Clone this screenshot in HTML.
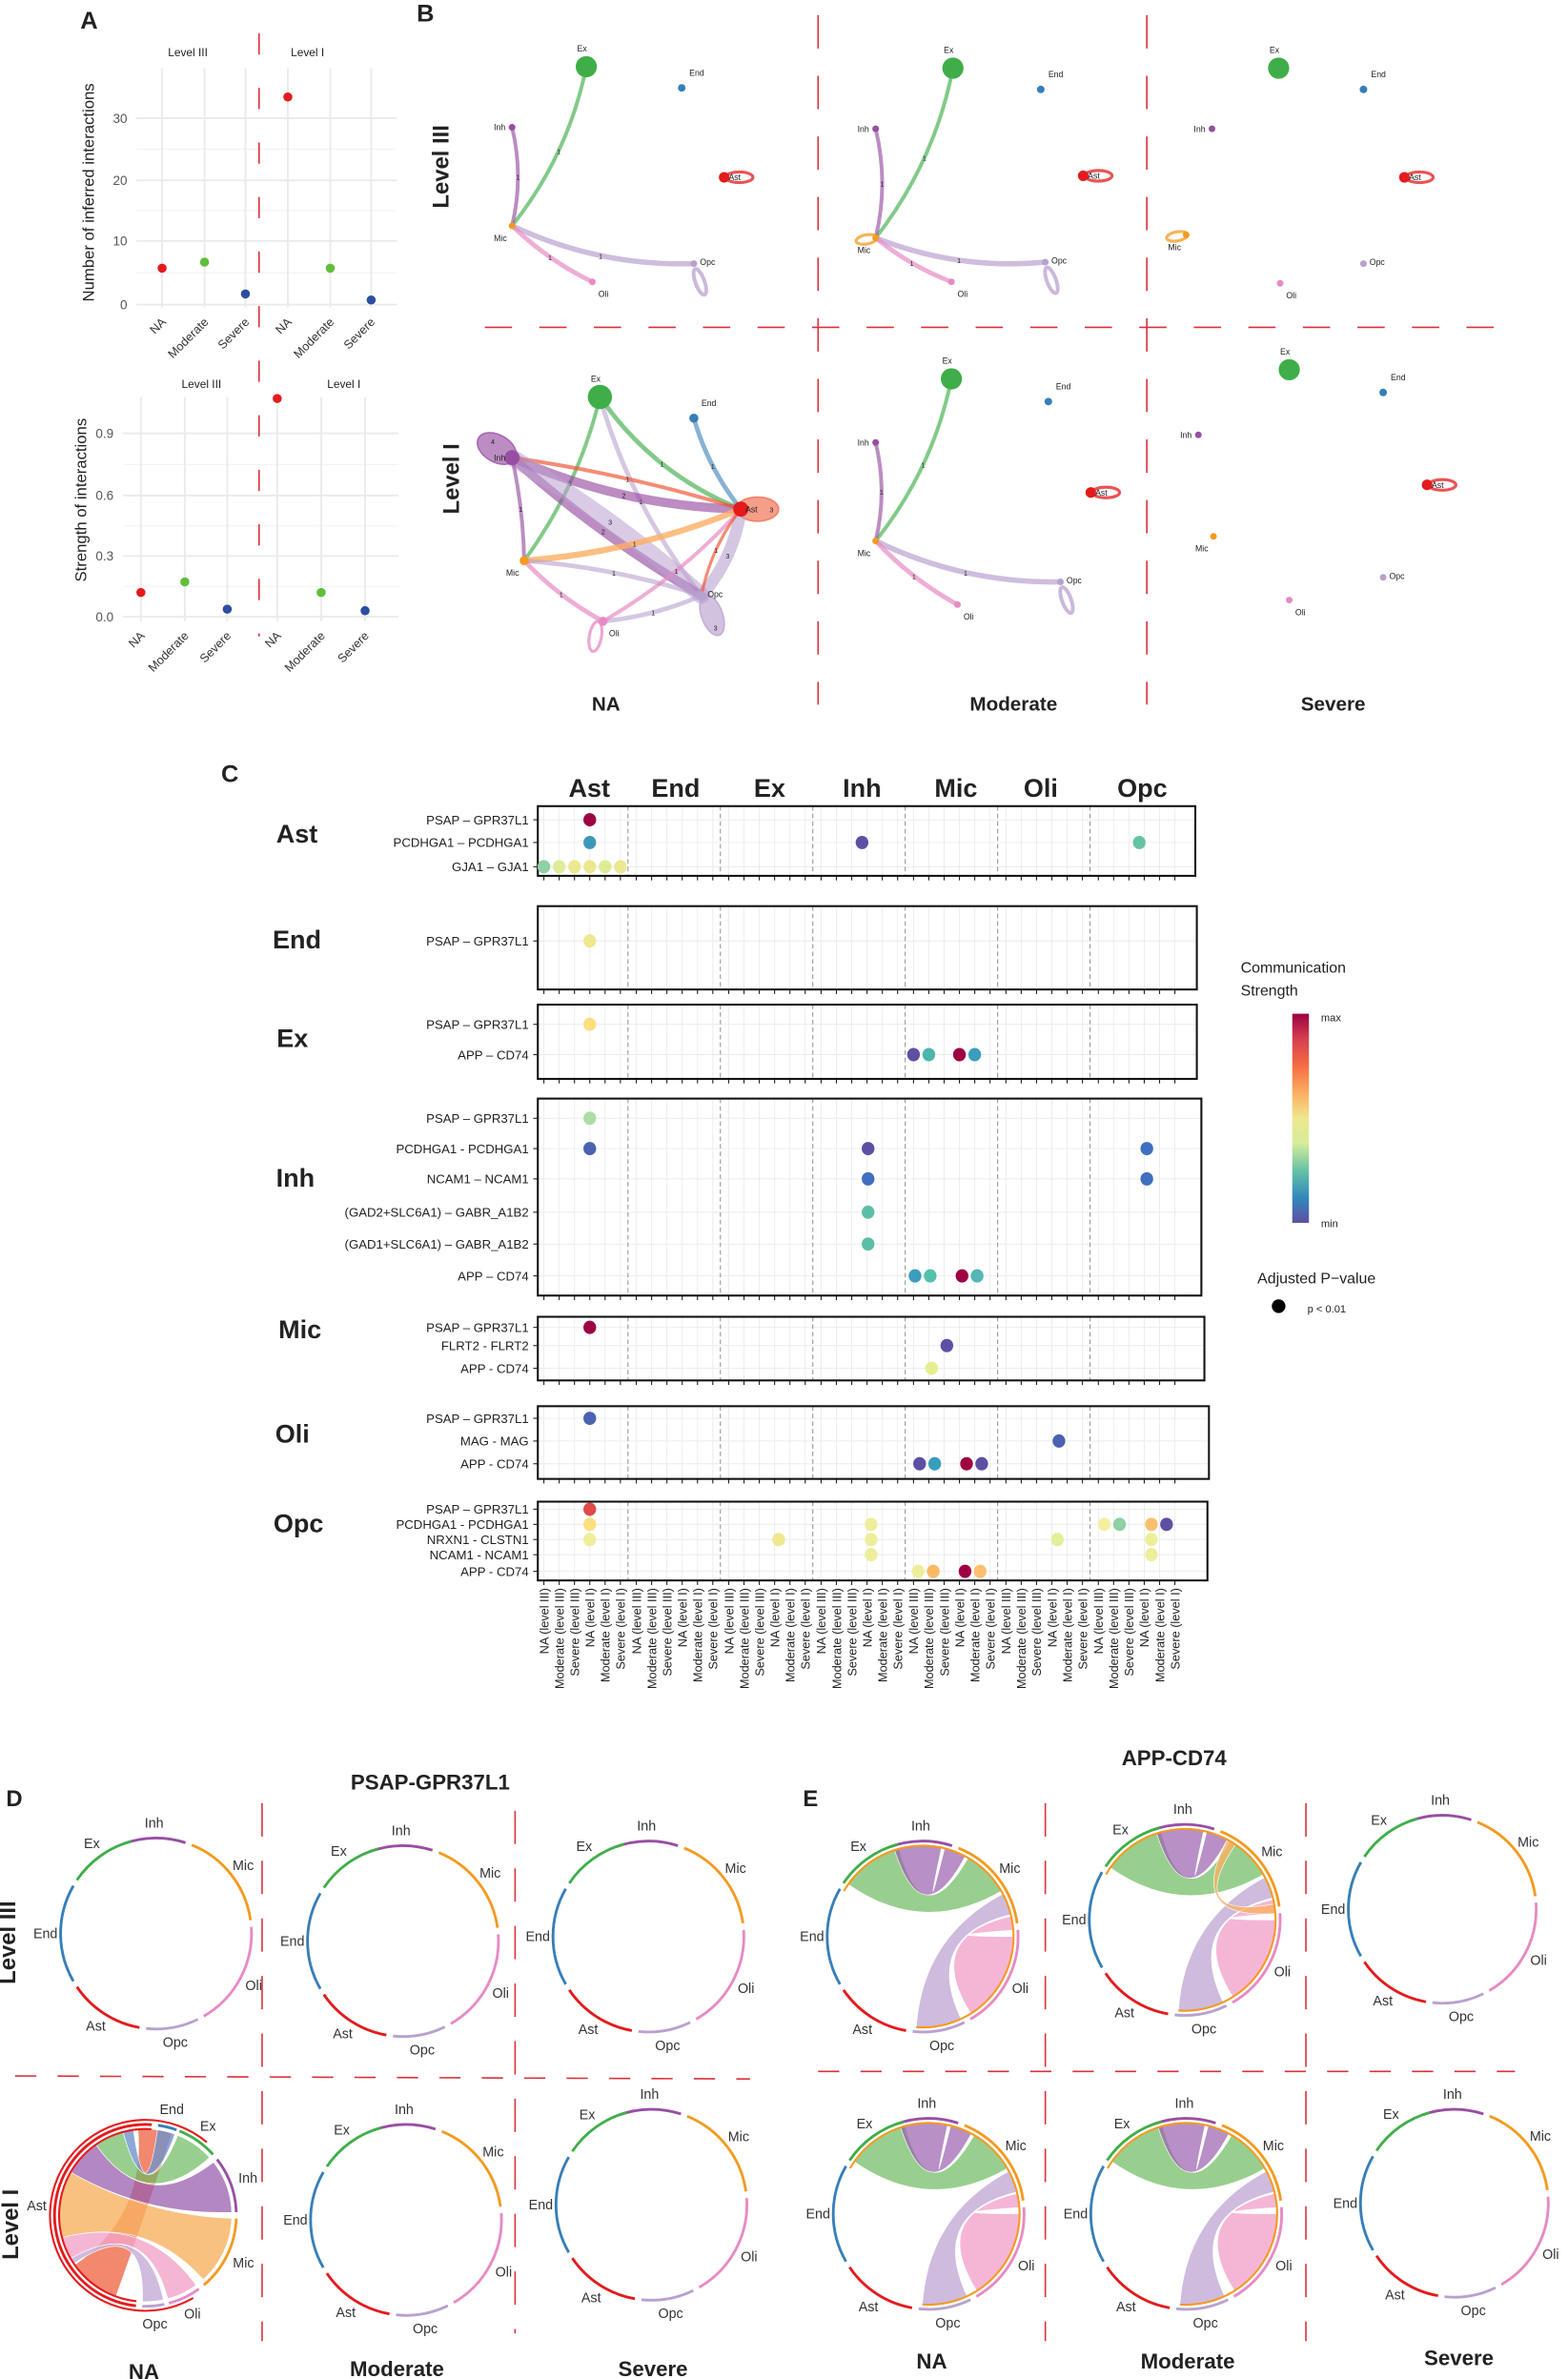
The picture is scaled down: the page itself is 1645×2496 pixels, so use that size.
<!DOCTYPE html>
<html><head><meta charset="utf-8">
<style>
html,body{margin:0;padding:0;background:#fff;}
svg{display:block;}
text{font-family:"Liberation Sans",Arial,sans-serif;}
</style></head>
<body>
<svg id="s" xmlns="http://www.w3.org/2000/svg" width="1645" height="2496" viewBox="0 0 1035 1570" preserveAspectRatio="none">
<defs>
<linearGradient id="spec" x1="0" y1="0" x2="0" y2="1">
<stop offset="0" stop-color="#9e0142"/><stop offset="0.12" stop-color="#d53e4f"/><stop offset="0.25" stop-color="#f46d43"/><stop offset="0.38" stop-color="#fdae61"/><stop offset="0.5" stop-color="#eee88f"/><stop offset="0.62" stop-color="#d6ec9a"/><stop offset="0.75" stop-color="#66c2a5"/><stop offset="0.88" stop-color="#3288bd"/><stop offset="1" stop-color="#5e4fa2"/>
</linearGradient>
</defs>
<g id="root"></g>
</svg>
<script>
const NS="http://www.w3.org/2000/svg";
const root=document.getElementById('root');
function el(tag,attrs,txt){const e=document.createElementNS(NS,tag);for(const k in attrs)e.setAttribute(k,attrs[k]);if(txt!==undefined)e.textContent=txt;root.appendChild(e);return e;}
function T(x,y,s,sz,opt){opt=opt||{};const a={x:x,y:y,'font-size':sz,fill:opt.fill||'#222'};if(opt.anchor)a['text-anchor']=opt.anchor;if(opt.bold)a['font-weight']='bold';if(opt.rot!==undefined)a.transform=`rotate(${opt.rot} ${x} ${y})`;return el('text',a,s);}
function L(x1,y1,x2,y2,c,w,dash){const a={x1,y1,x2,y2,stroke:c,'stroke-width':w};if(dash)a['stroke-dasharray']=dash;return el('line',a);}
function C(x,y,r,c,op){return el('circle',{cx:x,cy:y,r:r,fill:c,'fill-opacity':op||1});}
const RD='#d9303a';
// ===== A =====
T(53,19,'A',16,{bold:true});
T(275,14,'B',16,{bold:true});
function scatter(x0,x1,ticks,xs,pts,lab1,lab2,lx1,lx2,ly,ylab,ylx,yly,gtop,gbot){
  // grid
  ticks.forEach(t=>{L(x0,t[1],x1,t[1],'#ebebeb',1.2);T(x0-6,t[1]+3,t[0],8.5,{anchor:'end',fill:'#555'});});
  for(let i=0;i<ticks.length-1;i++){const m=(ticks[i][1]+ticks[i+1][1])/2;L(x0,m,x1,m,'#f2f2f2',0.7);}
  xs.forEach(x=>L(x,gtop,x,gbot,'#ebebeb',1.2));
  pts.forEach(p=>C(p[0],p[1],3,p[2]));
  T(lx1,ly,lab1,7.5,{anchor:'middle'});T(lx2,ly,lab2,7.5,{anchor:'middle'});
  const names=['NA','Moderate','Severe','NA','Moderate','Severe'];
  xs.forEach((x,i)=>T(x+3,gbot+10,names[i],8,{anchor:'end',rot:-45,fill:'#333'}));
  T(ylx,yly,ylab,10.5,{anchor:'middle',rot:-90,fill:'#222'});
}
scatter(90,262,[['0',201],['10',159],['20',119],['30',78]],[107,135,162,190,218,245],
 [[107,177,'#e41a1c'],[135,173,'#5fbf3a'],[162,194,'#2c4da0'],[190,64,'#e41a1c'],[218,177,'#5fbf3a'],[245,198,'#2c4da0']],
 'Level III','Level I',124,203,37,'Number of inferred interactions',62,127,45,203);
scatter(81,263,[['0.0',407],['0.3',367],['0.6',327],['0.9',286]],[93,122,150,183,212,241],
 [[93,391,'#e41a1c'],[122,384,'#5fbf3a'],[150,402,'#2c4da0'],[183,263,'#e41a1c'],[212,391,'#5fbf3a'],[241,403,'#2c4da0']],
 'Level III','Level I',133,227,256,'Strength of interactions',57,330,262,410);
L(171,22,171,420,RD,1,'14 22');
// ===== B =====
const col={Ex:'#3fae49',End:'#377eb8',Inh:'#984ea3',Ast:'#e41a1c',Mic:'#f39a1f',Opc:'#b9a1cf',Oli:'#e78ac3'};
function edge(a,b,c,w,cv,op,lab){const mx=(a[0]+b[0])/2,my=(a[1]+b[1])/2;const dx=b[0]-a[0],dy=b[1]-a[1];const qx=mx-dy*cv,qy=my+dx*cv;
 el('path',{d:`M${a[0]},${a[1]} Q${qx},${qy} ${b[0]},${b[1]}`,stroke:c,'stroke-width':w,fill:'none','stroke-opacity':op||0.65,'stroke-linecap':'round'});
 if(lab){const lx=0.25*a[0]+0.5*qx+0.25*b[0],ly=0.25*a[1]+0.5*qy+0.25*b[1];T(lx,ly+2,lab,4.5,{anchor:'middle'});}}
function loop(x,y,rx,ry,c,w,ang,fill){el('ellipse',{cx:x,cy:y,rx:rx,ry:ry,fill:fill?c:'none','fill-opacity':fill?0.65:0,stroke:c,'stroke-width':w,'stroke-opacity':0.75,transform:`rotate(${ang||0} ${x} ${y})`});}
function nodes(N,sizes){for(const k in N){const p=N[k];C(p[0],p[1],sizes[k]||2.2,col[k]);}
 const off={Ex:[-6,-10],End:[5,-8],Inh:[-12,2],Ast:[3,2],Mic:[-12,10],Opc:[4,1],Oli:[4,10]};
 for(const k in N){const p=N[k];T(p[0]+off[k][0],p[1]+off[k][1],k,5.5,{});}}
function net3(N,opts){
 if(opts.edges){
  edge(N.Ex,N.Mic,col.Ex,2.5,-0.12,0.65,'1');
  edge(N.Inh,N.Mic,col.Inh,2.5,-0.12,0.65,'1');
  edge(N.Mic,N.Opc,col.Opc,3.5,0.12,0.7,'1');
  edge(N.Mic,N.Oli,col.Oli,3,0.08,0.7,'1');
  loop(N.Opc[0]+4,N.Opc[1]+12,3,9,col.Opc,2.5,-20);
 }
 if(opts.micloop)loop(N.Mic[0]-6,N.Mic[1]+1,7,3,col.Mic,2,-10);
 loop(N.Ast[0]+10,N.Ast[1],9,3.5,col.Ast,2,0);
 nodes(N,{Ex:opts.exr||7,Ast:3.5,End:2.5});
}
net3({Ex:[387,44],End:[450,58],Inh:[338,84],Ast:[478,117],Mic:[338,149],Opc:[458,174],Oli:[391,186]},{edges:true});
net3({Ex:[629,45],End:[687,59],Inh:[578,85],Ast:[715,116],Mic:[578,157],Opc:[690,173],Oli:[628,186]},{edges:true,micloop:true});
net3({Ex:[844,45],End:[900,59],Inh:[800,85],Ast:[927,117],Mic:[783,155],Opc:[900,174],Oli:[845,187]},{micloop:true});
net3({Ex:[628,250],End:[692,265],Inh:[578,292],Ast:[720,325],Mic:[578,357],Opc:[700,384],Oli:[632,399]},{edges:true});
net3({Ex:[851,244],End:[913,259],Inh:[791,287],Ast:[942,320],Mic:[801,354],Opc:[913,381],Oli:[851,396]},{});
// Level I NA
(function(){const N={Ex:[396,262],End:[458,276],Inh:[338,302],Ast:[489,336],Mic:[346,370],Opc:[463,393],Oli:[398,410]};
 loop(328,296,14,9,col.Inh,1,30,true);
 loop(500,336,14,8,'#ef6a4a',1,0,true);
 loop(470,406,7,14,col.Opc,1,-20,true);
 loop(393,420,4,10,col.Oli,2,10);
 edge(N.Ex,N.Mic,col.Ex,2.5,-0.1,0.65,'1');
 edge(N.Ex,N.Ast,col.Ex,3,0.15,0.65,'1');
 edge(N.Ex,N.Opc,col.Opc,3,0.1,0.6,'1');
 edge(N.End,N.Ast,col.End,3,0.1,0.6,'1');
 edge(N.Inh,N.Ast,col.Inh,6,0.1,0.65,'2');
 edge(N.Inh,N.Ast,'#f05a3a',2.5,-0.04,0.7,'1');
 edge(N.Inh,N.Opc,col.Inh,6,0.05,0.65,'2');
 edge(N.Inh,N.Opc,col.Opc,11,-0.05,0.55,'3');
 edge(N.Inh,N.Mic,col.Inh,2.5,-0.05,0.65,'1');
 edge(N.Mic,N.Ast,'#fdae61',4,0.08,0.8,'1');
 edge(N.Mic,N.Opc,col.Opc,3,-0.06,0.6,'1');
 edge(N.Mic,N.Oli,col.Oli,3,0.08,0.7,'1');
 edge(N.Oli,N.Ast,col.Oli,2.5,0.08,0.7,'1');
 edge(N.Oli,N.Opc,col.Opc,3,0.08,0.6,'1');
 edge(N.Opc,N.Ast,col.Opc,8,0.15,0.6,'3');
 edge(N.Ast,N.Opc,'#f05a3a',2,0.12,0.7,'1');
 T(324,293,'4',4.5,{});T(508,338,'3',4.5,{});T(471,416,'3',4.5,{});
 nodes(N,{Ex:8,Ast:5,Inh:5,End:3,Opc:3,Oli:3,Mic:3});})();
L(540,10,540,465,RD,1,'22 18');L(757,10,757,465,RD,1,'22 18');
L(320,216,995,216,RD,1,'18 18');
T(296,110,'Level III',15,{anchor:'middle',bold:true,rot:-90});
T(303,316,'Level I',15,{anchor:'middle',bold:true,rot:-90});
T(400,469,'NA',13,{anchor:'middle',bold:true});T(669,469,'Moderate',13,{anchor:'middle',bold:true});T(880,469,'Severe',13,{anchor:'middle',bold:true});
// ===== C =====
T(146,516,'C',16,{bold:true});
const heads=[['Ast',389],['End',446],['Ex',508],['Inh',569],['Mic',631],['Oli',687],['Opc',754]];
heads.forEach(h=>T(h[1],526,h[0],17,{anchor:'middle',bold:true}));
function cx(g,i){return 359+g*61+i*10.1;}
const panels=[
 ['Ast',532,578,789,196,556,[['PSAP – GPR37L1',541],['PCDHGA1 – PCDHGA1',556],['GJA1 – GJA1',572]],
  [[cx(0,3),541,'#9e0142'],[cx(0,3),556,'#3d98b8'],[569,556,'#5e4fa2'],[752,556,'#66c2a5'],[cx(0,0),572,'#8fd0a4'],[cx(0,1),572,'#e0eb98'],[cx(0,2),572,'#ece88f'],[cx(0,3),572,'#ece88f'],[cx(0,4),572,'#e0eb98'],[cx(0,5),572,'#ece88f']]],
 ['End',598,653,790,196,626,[['PSAP – GPR37L1',621]],[[cx(0,3),621,'#eee88f']]],
 ['Ex',663,712,790,193,691,[['PSAP – GPR37L1',676],['APP – CD74',696]],
  [[cx(0,3),676,'#fddf80'],[cx(4,0),696,'#5e4fa2'],[cx(4,1),696,'#4db6ac'],[cx(4,3),696,'#9e0142'],[cx(4,4),696,'#3a9dbd']]],
 ['Inh',725,855,793,195,783,[['PSAP – GPR37L1',738],['PCDHGA1 - PCDHGA1',758],['NCAM1 – NCAM1',778],['(GAD2+SLC6A1) – GABR_A1B2',800],['(GAD1+SLC6A1) – GABR_A1B2',821],['APP – CD74',842]],
  [[cx(0,3),738,'#abdda4'],[cx(0,3),758,'#4a62b0'],[573,758,'#5e4fa2'],[757,758,'#3f6fbf'],[573,778,'#3f6fbf'],[757,778,'#3f6fbf'],[573,800,'#5cbfa5'],[573,821,'#5cbfa5'],[604,842,'#3a9dbd'],[614,842,'#55c0ac'],[635,842,'#9e0142'],[645,842,'#55b6b6']]],
 ['Mic',869,911,795,198,883,[['PSAP – GPR37L1',876],['FLRT2 - FLRT2',888],['APP - CD74',903]],
  [[cx(0,3),876,'#9e0142'],[625,888,'#5e4fa2'],[615,903,'#e6ee90']]],
 ['Oli',928,976,798,193,952,[['PSAP – GPR37L1',936],['MAG - MAG',951],['APP - CD74',966]],
  [[cx(0,3),936,'#4a62b0'],[699,951,'#4a62b0'],[607,966,'#5e4fa2'],[617,966,'#3a9dbd'],[638,966,'#9e0142'],[648,966,'#5e4fa2']]],
 ['Opc',991,1043,797,197,1011,[['PSAP – GPR37L1',996],['PCDHGA1 - PCDHGA1',1006],['NRXN1 - CLSTN1',1016],['NCAM1 - NCAM1',1026],['APP - CD74',1037]],
  [[cx(0,3),996,'#e04a4a'],[cx(0,3),1006,'#fddf80'],[575,1006,'#eeee9a'],[729,1006,'#f4f0a0'],[739,1006,'#8fd0a4'],[760,1006,'#fdbf6f'],[770,1006,'#5e4fa2'],
   [cx(0,3),1016,'#eeee9a'],[514,1016,'#eee88f'],[575,1016,'#eeee9a'],[698,1016,'#e6ee9a'],[760,1016,'#eeee9a'],[575,1026,'#eeee9a'],[760,1026,'#eeee9a'],
   [606,1037,'#eeee9a'],[616,1037,'#fdb863'],[637,1037,'#9e0142'],[647,1037,'#fdc070']]]
];
panels.forEach(p=>{const [g,top,bot,right,gx,gy,rows,dots]=p;
 for(let gg=0;gg<7;gg++)for(let i=0;i<6;i++){const x=cx(gg,i);if(x<right)L(x,top,x,bot,'#ececec',0.6);L(x,bot,x,bot+3,'#222',0.7);}
 rows.forEach(r=>{L(355,r[1],right,r[1],'#ececec',0.6);L(352,r[1],355,r[1],'#222',0.7);T(349,r[1]+3,r[0],8.3,{anchor:'end'});});
 for(let gg=1;gg<7;gg++){const x=cx(gg,0)-5.5;L(x,top,x,bot,'#999',0.7,'3 2');}
 el('rect',{x:355,y:top,width:right-355,height:bot-top,fill:'none',stroke:'#111','stroke-width':1.3});
 T(gx,gy,g,17,{anchor:'middle',bold:true});
 dots.forEach(d=>el('ellipse',{cx:d[0],cy:d[1],rx:4.2,ry:4.4,fill:d[2]}));
});
const xl=['NA (level III)','Moderate (level III)','Severe (level III)','NA (level I)','Moderate (level I)','Severe (level I)'];
for(let g=0;g<7;g++)for(let i=0;i<6;i++){const x=cx(g,i)+3;T(x,1048,xl[i],8,{anchor:'end',rot:-90});}
// legend
T(819,642,'Communication',10,{});T(819,657,'Strength',10,{});
el('rect',{x:853,y:669,width:11,height:138,fill:'url(#spec)'});
T(872,674,'max',7,{});T(872,810,'min',7,{});
T(830,847,'Adjusted P−value',10,{});C(844,862,4.5,'#000');T(863,866,'p < 0.01',7,{});
// ===== D/E chord =====
T(4,1192,'D',15,{bold:true});T(530,1192,'E',15,{bold:true});
T(284,1181,'PSAP-GPR37L1',14,{anchor:'middle',bold:true});
T(775,1165,'APP-CD74',14,{anchor:'middle',bold:true});
function P(cx,cy,r,a){const t=a*Math.PI/180;return [cx+r*Math.sin(t),cy-r*Math.cos(t)];}
function arc(cx,cy,r,a1,a2,c,w){const p1=P(cx,cy,r,a1),p2=P(cx,cy,r,a2);const lg=(a2-a1)>180?1:0;
 el('path',{d:`M${p1[0]},${p1[1]} A${r},${r} 0 ${lg} 1 ${p2[0]},${p2[1]}`,stroke:c,'stroke-width':w,fill:'none'});}
const segs=[['Inh',-20,18,'#984ea3'],['Mic',22,82,'#f39a1f'],['Oli',86,150,'#e78ac3'],['Opc',154,186,'#b9a1cf'],['Ast',190,236,'#e41a1c'],['End',240,300,'#377eb8'],['Ex',304,345,'#3fae49']];
function circ(cx,cy,r){segs.forEach(s=>{arc(cx,cy,r,s[1],s[2],s[3],1.8);const m=(s[1]+s[2])/2;const p=P(cx,cy,r+10,m);T(p[0],p[1]+3,s[0],9,{anchor:'middle',fill:'#333'});});}
function chord(cx,cy,r,a1,a2,b1,b2,c,op){const A1=P(cx,cy,r,a1),A2=P(cx,cy,r,a2),B1=P(cx,cy,r,b1),B2=P(cx,cy,r,b2);
 el('path',{d:`M${A1[0]},${A1[1]} A${r},${r} 0 0 1 ${A2[0]},${A2[1]} Q${cx},${cy} ${B1[0]},${B1[1]} A${r},${r} 0 0 1 ${B2[0]},${B2[1]} Q${cx},${cy} ${A1[0]},${A1[1]}Z`,fill:c,'fill-opacity':op||0.6,stroke:'#fff','stroke-width':0.4});}
function appChord(cx,cy,r,mod){
 const ri=r-3;
 chord(cx,cy,ri,305,345,30,60,'#6cbb5e',0.7);
 chord(cx,cy,ri,-18,12,14,28,'#9a5fae',0.7);
 chord(cx,cy,ri,155,184,62,76,'#c2aad6',0.8);
 chord(cx,cy,ri,90,148,77,86,'#f19dc8',0.75);
 if(mod)chord(cx,cy,ri,28,34,80,86,'#f9b062',0.8);
 arc(cx,cy,r-3,300,360+184,'#f39a1f',1.3);
 circ(cx,cy,r);
}
// D Level III
circ(103,1276,63);circ(266,1281,63);circ(428,1278,63);
circ(268,1465,63);circ(430,1455,63);
// D Level I NA special
(function(){const cx=96,cy=1462,r=60;
 const ds=[['End',8,20,'#377eb8'],['Ex',22,48,'#3fae49'],['Inh',52,88,'#984ea3'],['Mic',92,140,'#f39a1f'],['Oli',144,165,'#e78ac3'],['Opc',168,182,'#b9a1cf'],['Ast',186,364,'#e41a1c']];
 chord(cx,cy,r-3,200,235,-5,18,'#ef6a4a',0.8);
 chord(cx,cy,r-3,92,138,255,300,'#f7b260',0.8);
 chord(cx,cy,r-3,52,88,300,325,'#9a5fae',0.75);
 chord(cx,cy,r-3,22,48,325,345,'#6cbb5e',0.7);
 chord(cx,cy,r-3,8,20,345,352,'#6f94cc',0.8);
 chord(cx,cy,r-3,144,165,240,255,'#f2a4c8',0.8);
 chord(cx,cy,r-3,168,182,236,240,'#cbb5dc',0.9);
 ds.forEach(s=>{arc(cx,cy,r,s[1],s[2],s[3],1.8);const m=(s[1]+s[2])/2;const p=P(cx,cy,r+12,m);T(p[0],p[1]+3,s[0],9,{anchor:'middle',fill:'#333'});});
 arc(cx,cy,r-3,186,364,'#e41a1c',1.3);arc(cx,cy,r+3,150,400,'#e41a1c',1.3);})();
// E
appChord(609,1278,63,false);appChord(782,1267,63,true);circ(952,1260,62);
appChord(613,1461,63,false);appChord(783,1461,63,false);circ(960,1454,62);
// dividers
L(173,1190,173,1545,RD,1,'22 16');L(340,1195,340,1540,RD,1,'22 16');
L(10,1370,495,1372,RD,1,'14 14');
L(690,1190,690,1545,RD,1,'22 16');L(862,1190,862,1545,RD,1,'22 16');
L(540,1367,1000,1367,RD,1,'14 14');
T(10,1282,'Level III',15,{anchor:'middle',bold:true,rot:-90});
T(12,1468,'Level I',15,{anchor:'middle',bold:true,rot:-90});
[['NA',95,1570],['Moderate',262,1568],['Severe',431,1568],['NA',615,1563],['Moderate',784,1563],['Severe',963,1561]].forEach(a=>T(a[1],a[2],a[0],14,{anchor:'middle',bold:true}));
</script>
</body></html>
